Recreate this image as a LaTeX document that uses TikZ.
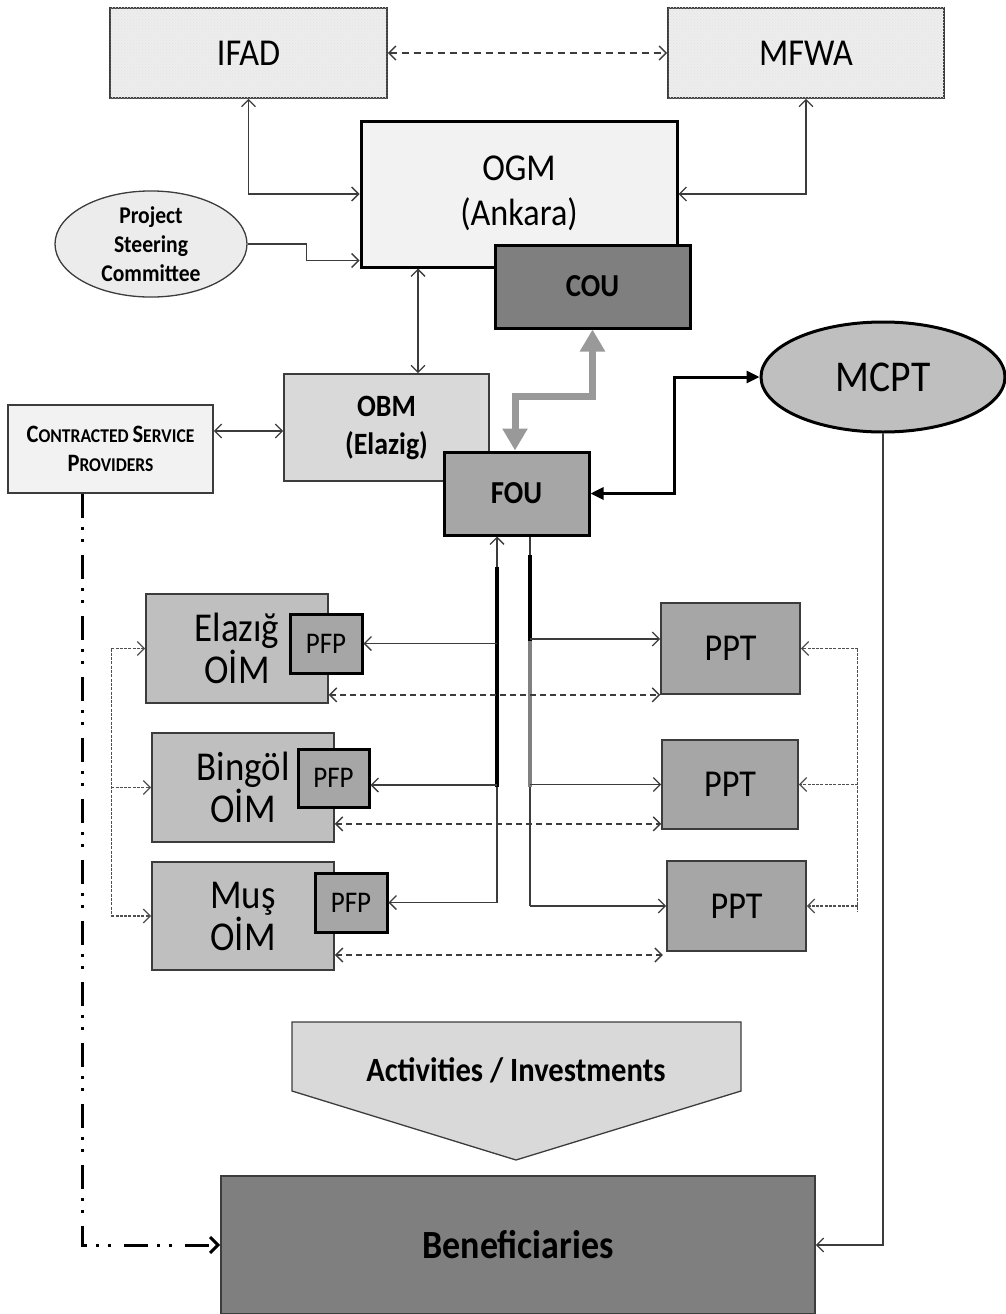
\documentclass[tikz,border=0pt]{standalone}
\usepackage{fontspec}
\setmainfont{Carlito}[FakeStretch=0.9]
\usetikzlibrary{arrows.meta,shapes.geometric,patterns,calc}
\definecolor{ln}{HTML}{3C3C3C}
\definecolor{cTex}{HTML}{EDEDED}
\definecolor{cOGM}{HTML}{F2F2F2}
\definecolor{cDark}{HTML}{7F7F7F}
\definecolor{cMid}{HTML}{A6A6A6}
\definecolor{cLight}{HTML}{D9D9D9}
\definecolor{cOim}{HTML}{BFBFBF}
\definecolor{cPSC}{HTML}{ECECEC}
\definecolor{cGrayArrow}{HTML}{999999}
\newcommand\fsz[2]{\fontsize{#1}{#2}\selectfont}
\newcommand\fsc[2]{{\fsz{25}{29}#1}{\fsz{19.5}{29}#2}}
\begin{document}
\begin{tikzpicture}[x=1pt,y=-1pt,
  >={Straight Barb[length=7pt,width=14pt]},
  conn/.style={draw=ln, line width=1.3pt},
  dashconn/.style={draw=ln, line width=1.4pt, dash pattern=on 6pt off 4pt},
  dotconn/.style={draw=ln!90, line width=1.3pt, dash pattern=on 3pt off 1.3pt},
  box/.style={draw=ln, line width=1.6pt, rectangle, inner sep=0pt, align=center},
  hbox/.style={draw=black, line width=3pt, rectangle, inner sep=0pt, align=center},
  bigtext/.style={font=\fsz{38}{42}},
  oimtext/.style={font=\fsz{41}{42}},
  pfptext/.style={font=\fsz{30}{32}},
  boldtext/.style={font=\fsz{32}{36}\bfseries},
  textured/.style={fill=cTex, postaction={pattern=crosshatch dots, pattern color=gray!22}},
]
\useasboundingbox (0,0) rectangle (1005,1314);

% top level
\node[box, textured, bigtext, minimum width=277pt, minimum height=90pt] (IFAD) at (248.5,53) {IFAD};
\node[box, textured, bigtext, minimum width=276pt, minimum height=90pt] (MFWA) at (806,53) {MFWA};
\node[hbox, fill=cOGM, font=\fsz{38}{45}, minimum width=316pt, minimum height=146pt] (OGM) at (519,194) {\raisebox{-5pt}{\begin{tabular}{@{}c@{}}OGM\\(Ankara)\end{tabular}}};
\node[hbox, fill=cDark, boldtext, minimum width=195pt, minimum height=83pt] (COU) at (592.5,286.5) {COU};
\node[ellipse, draw=ln, line width=1.3pt, fill=cPSC, inner sep=0pt, align=center, font=\fsz{24}{29}\bfseries, minimum width=192pt, minimum height=100pt] (PSC) at (151,244) {Project\\Steering\\Committee};

% middle level
\node[box, fill=cLight, font=\fsz{31}{38}\bfseries, minimum width=205pt, minimum height=107pt] (OBM) at (386.5,427.5) {OBM\\(Elazig)};
\node[box, fill=cOGM, font=\fsz{19.5}{29}\bfseries, minimum width=205pt, minimum height=88pt] (CSP) at (110.5,449) {\fsc{C}{ONTRACTED} \fsc{S}{ERVICE}\\\fsc{P}{ROVIDERS}};
\node[hbox, fill=cMid, boldtext, minimum width=145pt, minimum height=83pt] (FOU) at (516.5,493.5) {FOU};
\node[ellipse, draw=black, line width=3pt, fill=cOim, inner sep=0pt, font=\fsz{44}{46}, minimum width=244pt, minimum height=110pt] (MCPT) at (883,377) {MCPT};

% OIM and PFP
\node[box, fill=cOim, oimtext, minimum width=182pt, minimum height=109pt] (OIM1) at (237,648.5) {Elazığ\\OİM};
\node[hbox, fill=cMid, pfptext, minimum width=72pt, minimum height=59pt] (PFP1) at (326,643.5) {PFP};
\node[box, fill=cOim, oimtext, minimum width=182pt, minimum height=109pt] (OIM2) at (243,787.5) {Bingöl\\OİM};
\node[hbox, fill=cMid, pfptext, minimum width=71pt, minimum height=58pt] (PFP2) at (333.5,778) {PFP};
\node[box, fill=cOim, oimtext, minimum width=182pt, minimum height=108pt] (OIM3) at (243,916) {Muş\\OİM};
\node[hbox, fill=cMid, pfptext, minimum width=72pt, minimum height=59pt] (PFP3) at (351,902.5) {PFP};

% PPT
\node[box, fill=cMid, bigtext, minimum width=139pt, minimum height=91pt] (PPT1) at (730.5,648.5) {PPT};
\node[box, fill=cMid, bigtext, minimum width=136pt, minimum height=89pt] (PPT2) at (730,784.5) {PPT};
\node[box, fill=cMid, bigtext, minimum width=139pt, minimum height=90pt] (PPT3) at (736.5,906) {PPT};

% bottom
\draw[draw=ln, line width=1.3pt, fill=cLight] (292,1022) -- (741,1022) -- (741,1091) -- (516,1160) -- (292,1091) -- cycle;
\node[font=\fsz{34}{38}\bfseries] (ACT) at (516,1070) {Activities / Investments};
\node[box, fill=cDark, font=\fsz{40}{44}\bfseries, minimum width=594pt, minimum height=138pt] (BEN) at (518,1245) {Beneficiaries};

% connectors top
\draw[<->, draw=ln, line width=1.5pt, dash pattern=on 7pt off 5pt] (IFAD.east) -- (MFWA.west);
\draw[conn, <->] (IFAD.south) |- (OGM.west);
\draw[conn, <->] (MFWA.south) |- (OGM.east);
\draw[conn, ->] (PSC.east) -- ++(59,0) |- ([yshift=8pt]OGM.south west);
\draw[conn, <->] ([xshift=31.5pt]OGM.south west -| OBM.north) -- ([xshift=31.5pt]OBM.north);
\draw[conn, <->] ([yshift=-3.5pt]OBM.west -| CSP.east) -- ([yshift=-3.5pt]OBM.west);

% gray thick double arrow FOU-COU
\draw[draw=cGrayArrow, line width=7pt, {Triangle[length=22pt,width=24pt]}-{Triangle[length=22pt,width=24pt]}] ([xshift=-1.5pt]FOU.north) -- ++(0,-54) -| (COU.south);

% black thick FOU-MCPT
\draw[draw=black, line width=3pt, {Triangle[length=13pt,width=12pt]}-{Triangle[length=13pt,width=12pt]}] (FOU.east) -- ++(84,0) |- (MCPT.west);

% MCPT -> Beneficiaries
\draw[conn, ->] (MCPT.south) |- (BEN.east);

% CSP -> Beneficiaries
\draw[draw=black, line width=3pt, dash pattern=on 24pt off 9pt on 3pt off 9pt on 3pt off 13pt, -{Straight Barb[length=8pt,width=16pt]}] ([xshift=-28.5pt]CSP.south) |- (BEN.west);

% FOU bottom lines
\coordinate (fL) at ([xshift=-19.5pt]FOU.south);
\coordinate (fR) at ([xshift=13.5pt]FOU.south);
\draw[conn, ->] (fL |- PFP3.east) -- (fL);
\draw[line width=3.5pt] ([yshift=-30pt]fL) -- ([yshift=-250pt]fL);
\draw[conn, ->] (fL |- PFP1.east) -- (PFP1.east);
\draw[conn, ->] ([yshift=-7pt]PFP2.east -| fL) -- ([yshift=-7pt]PFP2.east);
\draw[conn, ->] (fL |- PFP3.east) -- (PFP3.east);

\draw[conn] (fR) -- (fR |- PPT3.west);
\draw[line width=3.5pt] ([yshift=-18pt]fR) -- ([yshift=-104pt]fR);
\draw[line width=3.5pt, draw=gray] ([yshift=-104pt]fR) -- ([yshift=-250pt]fR);
\draw[conn, ->] ([yshift=9.5pt]PPT1.west -| fR) -- ([yshift=9.5pt]PPT1.west);
\draw[conn, ->] (PPT2.west -| fR) -- (PPT2.west);
\draw[conn, ->] (PPT3.west -| fR) -- (PPT3.west);

% dashed OIM <-> PPT
\draw[dashconn, <->] (PPT1.south west -| OIM1.east) -- (PPT1.south west);
\draw[dashconn, <->] ([yshift=6pt]PPT2.south west -| OIM2.east) -- ([yshift=6pt]PPT2.south west);
\draw[dashconn, <->] ([yshift=-39pt]OIM3.east) -- ++(328,0);

% left dotted bracket
\draw[dotconn] ([xshift=-34pt]OIM1.west) -- ([xshift=-40pt]OIM3.west);
\draw[dotconn, ->] ([xshift=-34pt]OIM1.west) -- (OIM1.west);
\draw[dotconn, ->] ([xshift=-40pt]OIM2.west) -- (OIM2.west);
\draw[dotconn, ->] ([xshift=-40pt]OIM3.west) -- (OIM3.west);

% right dotted bracket
\draw[dotconn] ([xshift=57pt]PPT1.east) -- ([xshift=51pt,yshift=-6pt]PPT3.east);
\draw[dotconn, ->] ([xshift=57pt]PPT1.east) -- (PPT1.east);
\draw[dotconn, ->] ([xshift=59pt]PPT2.east) -- (PPT2.east);
\draw[dotconn, ->] ([xshift=51pt]PPT3.east) -- (PPT3.east);
\end{tikzpicture}
\end{document}
